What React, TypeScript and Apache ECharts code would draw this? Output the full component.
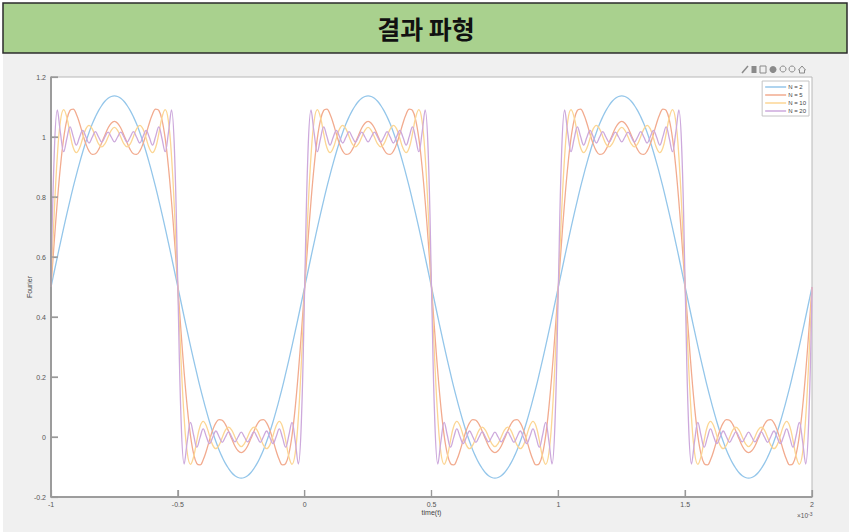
import React, { useEffect, useRef } from "react";
import * as echarts from "echarts";

const T_START = -1;
const T_STEP = 0.0125;

const N2 = [
  0.5,0.55,0.6,0.649,0.697,0.744,0.789,0.833,0.874,0.913,0.95,0.984,1.015,1.043,1.067,1.088,1.105,1.119,1.129,1.135,
  1.137,1.135,1.129,1.119,1.105,1.088,1.067,1.043,1.015,0.984,0.95,0.913,0.874,0.833,0.789,0.744,0.697,0.649,0.6,0.55,
  0.5,0.45,0.4,0.351,0.303,0.256,0.211,0.167,0.126,0.087,0.05,0.016,-0.015,-0.043,-0.067,-0.088,-0.105,-0.119,-0.129,-0.135,
  -0.137,-0.135,-0.129,-0.119,-0.105,-0.088,-0.067,-0.043,-0.015,0.016,0.05,0.087,0.126,0.167,0.211,0.256,0.303,0.351,0.4,0.45,
  0.5,0.55,0.6,0.649,0.697,0.744,0.789,0.833,0.874,0.913,0.95,0.984,1.015,1.043,1.067,1.088,1.105,1.119,1.129,1.135,
  1.137,1.135,1.129,1.119,1.105,1.088,1.067,1.043,1.015,0.984,0.95,0.913,0.874,0.833,0.789,0.744,0.697,0.649,0.6,0.55,
  0.5,0.45,0.4,0.351,0.303,0.256,0.211,0.167,0.126,0.087,0.05,0.016,-0.015,-0.043,-0.067,-0.088,-0.105,-0.119,-0.129,-0.135,
  -0.137,-0.135,-0.129,-0.119,-0.105,-0.088,-0.067,-0.043,-0.015,0.016,0.05,0.087,0.126,0.167,0.211,0.256,0.303,0.351,0.4,0.45,
  0.5,0.55,0.6,0.649,0.697,0.744,0.789,0.833,0.874,0.913,0.95,0.984,1.015,1.043,1.067,1.088,1.105,1.119,1.129,1.135,
  1.137,1.135,1.129,1.119,1.105,1.088,1.067,1.043,1.015,0.984,0.95,0.913,0.874,0.833,0.789,0.744,0.697,0.649,0.6,0.55,
  0.5,0.45,0.4,0.351,0.303,0.256,0.211,0.167,0.126,0.087,0.05,0.016,-0.015,-0.043,-0.067,-0.088,-0.105,-0.119,-0.129,-0.135,
  -0.137,-0.135,-0.129,-0.119,-0.105,-0.088,-0.067,-0.043,-0.015,0.016,0.05,0.087,0.126,0.167,0.211,0.256,0.303,0.351,0.4,0.45,
  0.5,
];

const N5 = [
  0.5,0.648,0.786,0.904,0.996,1.057,1.089,1.093,1.076,1.046,1.01,0.977,0.953,0.942,0.944,0.958,0.981,1.006,1.03,1.046,
  1.052,1.046,1.03,1.006,0.981,0.958,0.944,0.942,0.953,0.977,1.01,1.046,1.076,1.093,1.089,1.057,0.996,0.904,0.786,0.648,
  0.5,0.352,0.214,0.096,0.004,-0.057,-0.089,-0.093,-0.076,-0.046,-0.01,0.023,0.047,0.058,0.056,0.042,0.019,-0.006,-0.03,-0.046,
  -0.052,-0.046,-0.03,-0.006,0.019,0.042,0.056,0.058,0.047,0.023,-0.01,-0.046,-0.076,-0.093,-0.089,-0.057,0.004,0.096,0.214,0.352,
  0.5,0.648,0.786,0.904,0.996,1.057,1.089,1.093,1.076,1.046,1.01,0.977,0.953,0.942,0.944,0.958,0.981,1.006,1.03,1.046,
  1.052,1.046,1.03,1.006,0.981,0.958,0.944,0.942,0.953,0.977,1.01,1.046,1.076,1.093,1.089,1.057,0.996,0.904,0.786,0.648,
  0.5,0.352,0.214,0.096,0.004,-0.057,-0.089,-0.093,-0.076,-0.046,-0.01,0.023,0.047,0.058,0.056,0.042,0.019,-0.006,-0.03,-0.046,
  -0.052,-0.046,-0.03,-0.006,0.019,0.042,0.056,0.058,0.047,0.023,-0.01,-0.046,-0.076,-0.093,-0.089,-0.057,0.004,0.096,0.214,0.352,
  0.5,0.648,0.786,0.904,0.996,1.057,1.089,1.093,1.076,1.046,1.01,0.977,0.953,0.942,0.944,0.958,0.981,1.006,1.03,1.046,
  1.052,1.046,1.03,1.006,0.981,0.958,0.944,0.942,0.953,0.977,1.01,1.046,1.076,1.093,1.089,1.057,0.996,0.904,0.786,0.648,
  0.5,0.352,0.214,0.096,0.004,-0.057,-0.089,-0.093,-0.076,-0.046,-0.01,0.023,0.047,0.058,0.056,0.042,0.019,-0.006,-0.03,-0.046,
  -0.052,-0.046,-0.03,-0.006,0.019,0.042,0.056,0.058,0.047,0.023,-0.01,-0.046,-0.076,-0.093,-0.089,-0.057,0.004,0.096,0.214,0.352,
  0.5,
];

const N10 = [
  0.5,0.742,0.937,1.055,1.091,1.065,1.011,0.965,0.948,0.963,0.996,1.027,1.039,1.027,1.002,0.977,0.967,0.977,1,1.022,
  1.032,1.022,1,0.977,0.967,0.977,1.002,1.027,1.039,1.027,0.996,0.963,0.948,0.965,1.011,1.065,1.091,1.055,0.937,0.742,
  0.5,0.258,0.063,-0.055,-0.091,-0.065,-0.011,0.035,0.052,0.037,0.004,-0.027,-0.039,-0.027,-0.002,0.023,0.033,0.023,0,-0.022,
  -0.032,-0.022,0,0.023,0.033,0.023,-0.002,-0.027,-0.039,-0.027,0.004,0.037,0.052,0.035,-0.011,-0.065,-0.091,-0.055,0.063,0.258,
  0.5,0.742,0.937,1.055,1.091,1.065,1.011,0.965,0.948,0.963,0.996,1.027,1.039,1.027,1.002,0.977,0.967,0.977,1,1.022,
  1.032,1.022,1,0.977,0.967,0.977,1.002,1.027,1.039,1.027,0.996,0.963,0.948,0.965,1.011,1.065,1.091,1.055,0.937,0.742,
  0.5,0.258,0.063,-0.055,-0.091,-0.065,-0.011,0.035,0.052,0.037,0.004,-0.027,-0.039,-0.027,-0.002,0.023,0.033,0.023,0,-0.022,
  -0.032,-0.022,0,0.023,0.033,0.023,-0.002,-0.027,-0.039,-0.027,0.004,0.037,0.052,0.035,-0.011,-0.065,-0.091,-0.055,0.063,0.258,
  0.5,0.742,0.937,1.055,1.091,1.065,1.011,0.965,0.948,0.963,0.996,1.027,1.039,1.027,1.002,0.977,0.967,0.977,1,1.022,
  1.032,1.022,1,0.977,0.967,0.977,1.002,1.027,1.039,1.027,0.996,0.963,0.948,0.965,1.011,1.065,1.091,1.055,0.937,0.742,
  0.5,0.258,0.063,-0.055,-0.091,-0.065,-0.011,0.035,0.052,0.037,0.004,-0.027,-0.039,-0.027,-0.002,0.023,0.033,0.023,0,-0.022,
  -0.032,-0.022,0,0.023,0.033,0.023,-0.002,-0.027,-0.039,-0.027,0.004,0.037,0.052,0.035,-0.011,-0.065,-0.091,-0.055,0.063,0.258,
  0.5,
];

const N20 = [
  0.5,0.936,1.09,1.012,0.951,0.995,1.034,1.002,0.973,0.999,1.022,1.001,0.98,0.999,1.018,1,0.983,1,1.016,1,
  0.984,1,1.016,1,0.983,1,1.018,0.999,0.98,1.001,1.022,0.999,0.973,1.002,1.034,0.995,0.951,1.012,1.09,0.936,
  0.5,0.064,-0.09,-0.012,0.049,0.005,-0.034,-0.002,0.027,0.001,-0.022,-0.001,0.02,0.001,-0.018,0,0.017,0,-0.016,0,
  0.016,0,-0.016,0,0.017,0,-0.018,0.001,0.02,-0.001,-0.022,0.001,0.027,-0.002,-0.034,0.005,0.049,-0.012,-0.09,0.064,
  0.5,0.936,1.09,1.012,0.951,0.995,1.034,1.002,0.973,0.999,1.022,1.001,0.98,0.999,1.018,1,0.983,1,1.016,1,
  0.984,1,1.016,1,0.983,1,1.018,0.999,0.98,1.001,1.022,0.999,0.973,1.002,1.034,0.995,0.951,1.012,1.09,0.936,
  0.5,0.064,-0.09,-0.012,0.049,0.005,-0.034,-0.002,0.027,0.001,-0.022,-0.001,0.02,0.001,-0.018,0,0.017,0,-0.016,0,
  0.016,0,-0.016,0,0.017,0,-0.018,0.001,0.02,-0.001,-0.022,0.001,0.027,-0.002,-0.034,0.005,0.049,-0.012,-0.09,0.064,
  0.5,0.936,1.09,1.012,0.951,0.995,1.034,1.002,0.973,0.999,1.022,1.001,0.98,0.999,1.018,1,0.983,1,1.016,1,
  0.984,1,1.016,1,0.983,1,1.018,0.999,0.98,1.001,1.022,0.999,0.973,1.002,1.034,0.995,0.951,1.012,1.09,0.936,
  0.5,0.064,-0.09,-0.012,0.049,0.005,-0.034,-0.002,0.027,0.001,-0.022,-0.001,0.02,0.001,-0.018,0,0.017,0,-0.016,0,
  0.016,0,-0.016,0,0.017,0,-0.018,0.001,0.02,-0.001,-0.022,0.001,0.027,-0.002,-0.034,0.005,0.049,-0.012,-0.09,0.064,
  0.5,
];

const SERIES_NAMES = ["N = 2", "N = 5", "N = 10", "N = 20"];
const SERIES_VALUES = [N2, N5, N10, N20];
const SERIES_COLORS = ["#94c6ea", "#f2ab8f", "#fcd694", "#cda9dc"];

const X_TICKS = [-1, -0.5, 0, 0.5, 1, 1.5, 2];
const Y_TICKS = [-0.2, 0, 0.2, 0.4, 0.6, 0.8, 1, 1.2];

const TITLE_TEXT = "결과 파형";
const X_NAME = "time(t)";
const Y_NAME = "Fourier";

export default function App() {
  const ref = useRef<HTMLDivElement>(null);

  useEffect(() => {
    if (!ref.current) return;
    const chart = echarts.init(ref.current, null, { renderer: "svg" });

    const series = SERIES_VALUES.map((vals, k) => ({
      name: SERIES_NAMES[k],
      type: "line",
      data: vals.map((v, i) => [T_START + i * T_STEP, v]),
      showSymbol: false,
      smooth: 0.4,
      lineStyle: { color: SERIES_COLORS[k], width: 1.3 },
      itemStyle: { color: SERIES_COLORS[k] },
      z: 2 + k,
    }));

    const iconColor = "#8a8a8a";
    const iconXs = [745, 754, 763, 773, 783, 792, 802];
    const axisGray = "#999999";

    const baseGraphic: any[] = [
      { type: "rect", z: -10, silent: true, shape: { x: 3, y: 54, width: 846, height: 478 }, style: { fill: "#f0f0f0" } },
      {
        type: "rect",
        z: 10,
        shape: { x: 3, y: 3, width: 844, height: 50 },
        style: { fill: "#a9d18e", stroke: "#2b2b2b", lineWidth: 1.5 },
      },
      {
        type: "text",
        z: 11,
        x: 426,
        y: 28,
        style: {
          text: TITLE_TEXT,
          fill: "#111",
          font: "bold 25px 'Noto Sans CJK KR', sans-serif",
          textAlign: "center",
          textVerticalAlign: "middle",
        },
      },
      {
        type: "text",
        z: 11,
        x: 797,
        y: 511,
        style: {
          text: "{a|×10}{b|-3}",
          rich: {
            a: { fontSize: 6.5, fill: "#555", fontFamily: "Liberation Sans, Arial, sans-serif" },
            b: { fontSize: 5, fill: "#555", verticalAlign: "top", padding: [0, 0, 4, 0], fontFamily: "Liberation Sans, Arial, sans-serif" },
          },
        },
      },
      {
        type: "group",
        z: 11,
        children: iconXs.map((x, i) => {
          if (i === 2) {
            return { type: "rect", shape: { x: x - 3, y: 66, width: 6, height: 7 }, style: { fill: "none", stroke: iconColor, lineWidth: 1 } };
          }
          if (i === 4 || i === 5) {
            return { type: "circle", shape: { cx: x, cy: 69, r: 3 }, style: { fill: "none", stroke: iconColor, lineWidth: 1 } };
          }
          if (i === 3) {
            return { type: "circle", shape: { cx: x, cy: 69.5, r: 3.5 }, style: { fill: iconColor } };
          }
          if (i === 6) {
            return { type: "polygon", shape: { points: [[x - 3.5, 70], [x, 66], [x + 3.5, 70], [x + 2.5, 70], [x + 2.5, 73], [x - 2.5, 73], [x - 2.5, 70]] }, style: { fill: "none", stroke: iconColor, lineWidth: 1 } };
          }
          if (i === 1) {
            return { type: "rect", shape: { x: x - 2.5, y: 66, width: 5, height: 7 }, style: { fill: iconColor } };
          }
          return { type: "line", shape: { x1: x - 3, y1: 73, x2: x + 3, y2: 66 }, style: { stroke: iconColor, lineWidth: 1.5 } };
        }),
      },
    ];

    chart.setOption({
      animation: false,
      backgroundColor: "#ffffff",
      textStyle: { fontFamily: "Liberation Sans, Arial, sans-serif" },
      grid: {
        left: 51,
        right: 37,
        top: 77,
        bottom: 35,
        show: true,
        backgroundColor: "#ffffff",
        borderColor: "#b8b8b8",
        borderWidth: 1,
      },
      legend: {
        data: SERIES_NAMES,
        orient: "vertical",
        right: 40,
        top: 81,
        itemWidth: 21,
        itemHeight: 1.5,
        itemGap: 2,
        icon: "rect",
        backgroundColor: "#ffffff",
        borderColor: "#c4c4c4",
        borderWidth: 1,
        padding: [3, 3, 2, 3],
        textStyle: { fontSize: 6, color: "#444", padding: [0, 0, 0, -3] },
      },
      xAxis: {
        type: "value",
        min: -1,
        max: 2,
        interval: 0.5,
        name: X_NAME,
        nameLocation: "middle",
        nameGap: 12,
        nameMoveOverlap: false,
        nameTextStyle: { fontSize: 7, color: "#444", verticalAlign: "top" },
        axisLine: { show: true, onZero: false, lineStyle: { color: axisGray, width: 1.5 } },
        axisTick: { show: true, inside: true, length: 7, lineStyle: { color: axisGray, width: 1.2 } },
        axisLabel: { fontSize: 7, color: "#555", margin: 4, formatter: (v: number) => String(v) },
        splitLine: { show: false },
      },
      yAxis: {
        type: "value",
        min: -0.2,
        max: 1.2,
        interval: 0.2,
        name: Y_NAME,
        nameLocation: "middle",
        nameRotate: 90,
        nameGap: 18,
        nameMoveOverlap: false,
        nameTextStyle: { fontSize: 7, color: "#444" },
        axisLine: { show: true, onZero: false, lineStyle: { color: axisGray, width: 1.5 } },
        axisTick: { show: true, inside: true, length: 7, lineStyle: { color: axisGray, width: 1.2 } },
        axisLabel: {
          fontSize: 7,
          color: "#555",
          margin: 5,
          formatter: (v: number) => String(Number(v.toFixed(1))),
        },
        splitLine: { show: false },
      },
      graphic: baseGraphic,
      series,
    });

    // Axis lines and inside ticks positioned with the chart's own scales
    const px = (x: number, y: number) => chart.convertToPixel({ gridIndex: 0 }, [x, y]) as number[];
    const [x0, yBottom] = px(-1, -0.2);
    const [x1, yTop] = px(2, 1.2);
    const tickGraphic: any[] = [
      { type: "line", z: 30, shape: { x1: x0, y1: yBottom, x2: x1, y2: yBottom }, style: { stroke: axisGray, lineWidth: 1.5 } },
      { type: "line", z: 30, shape: { x1: x0, y1: yBottom, x2: x0, y2: yTop }, style: { stroke: axisGray, lineWidth: 1.5 } },
      ...X_TICKS.map((t) => {
        const [x] = px(t, -0.2);
        return { type: "line", z: 30, shape: { x1: x, y1: yBottom, x2: x, y2: yBottom - 7 }, style: { stroke: axisGray, lineWidth: 1.2 } };
      }),
      ...Y_TICKS.map((v) => {
        const [, y] = px(-1, v);
        return { type: "line", z: 30, shape: { x1: x0, y1: y, x2: x0 + 7, y2: y }, style: { stroke: axisGray, lineWidth: 1.2 } };
      }),
    ];
    chart.setOption({ graphic: [...baseGraphic, ...tickGraphic] });

    return () => chart.dispose();
  }, []);

  return (
    <div style={{ position: "fixed", left: 0, top: 0, width: 849, height: 532, background: "#ffffff" }}>
      <div ref={ref} style={{ width: 849, height: 532 }} />
    </div>
  );
}
